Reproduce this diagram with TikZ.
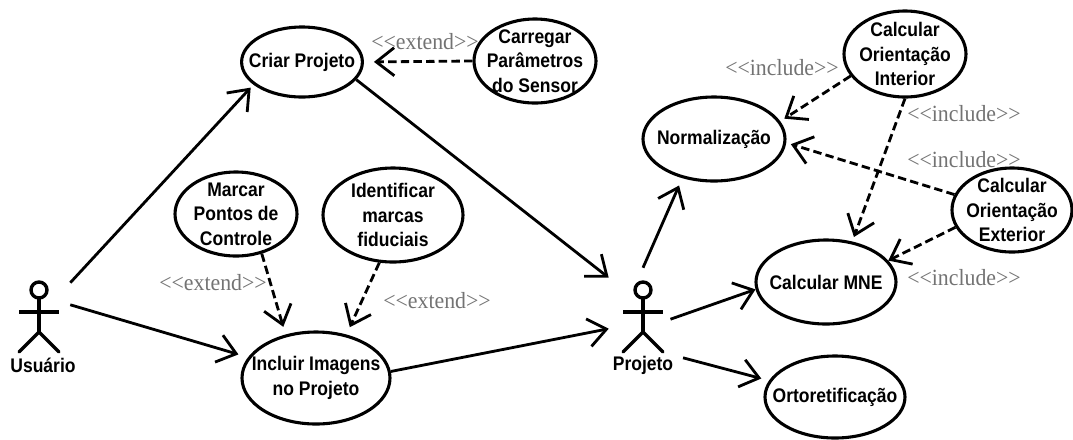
\documentclass[tikz,border=0pt]{standalone}
\usepackage{fontspec}
\usepackage{tikz}
\usetikzlibrary{shapes.geometric,arrows.meta}
\setmainfont{Liberation Sans}[FakeStretch=0.89]
\newfontfamily\stereofont{Liberation Serif}[FakeStretch=0.94]

\tikzset{
    usecase/.style={ellipse,draw,line width=2.2pt,inner sep=-1cm,align=center,
        font=\fontsize{14}{17.5}\selectfont\bfseries},
    stereo/.style={inner sep=0pt,text=black!55,font=\fontsize{16.5}{18}\selectfont\stereofont},
    actorbox/.style={rectangle,inner sep=0pt},
    actorname/.style={inner sep=0pt,font=\fontsize{14}{17.5}\selectfont\bfseries},
    assoc/.style={line width=2pt,-{Straight Barb[length=4.5mm,width=7mm,line width=2pt]}},
    dep/.style={assoc,dashed,dash pattern=on 6pt off 3pt},
    actor/.pic={
        \draw[line width=2.4pt] (0,-22) circle [radius=8];
        \draw[line width=2.4pt] (-20,0) -- (20,0);
        \draw[line width=2.4pt] (0,-13) -- (0,20);
        \draw[line width=2.4pt,line cap=round] (-20,40) -- (0,20) -- (20,40);
    }
}

\begin{document}
\begin{tikzpicture}[x=0.25mm,y=-0.25mm]
    \useasboundingbox (0,0) rectangle (1073,439);

    % Actors
    \pic at (39,312) {actor};
    \pic at (643,312) {actor};
    \node[actorbox,minimum width=15.5mm,minimum height=14.5mm] (Usuario) at (39,312) {};
    \node[actorbox,minimum width=17mm,minimum height=22mm] (Projeto) at (643,312) {};
    \node[actorname] (UsuarioName) at (43,365) {Usuário};
    \node[actorname] (ProjetoName) at (643,365) {Projeto};

    % Use cases
    \node[usecase,minimum width=30.2mm,minimum height=17.5mm] (Criar) at (302,62) {Criar Projeto};
    \node[usecase,minimum width=30.5mm,minimum height=21mm] (Carregar) at (535,61) {Carregar\\Parâmetros\\do Sensor};
    \node[usecase,minimum width=30.5mm,minimum height=21mm] (Marcar) at (236,214) {Marcar\\Pontos de\\Controle};
    \node[usecase,minimum width=35mm,minimum height=23.5mm] (Ident) at (393,215) {Identificar\\marcas\\fiduciais};
    \node[usecase,minimum width=37mm,minimum height=23mm] (Incluir) at (316,378) {Incluir Imagens\\no Projeto};
    \node[usecase,minimum width=35.5mm,minimum height=21mm] (Norm) at (714,139) {Normalização};
    \node[usecase,minimum width=30.5mm,minimum height=21.5mm] (OrInt) at (905,54) {Calcular\\Orientação\\Interior};
    \node[usecase,minimum width=30mm,minimum height=21mm] (OrExt) at (1012,210) {Calcular\\Orientação\\Exterior};
    \node[usecase,minimum width=35mm,minimum height=21mm] (MNE) at (826,282) {Calcular MNE};
    \node[usecase,minimum width=35mm,minimum height=20.5mm] (Orto) at (835,397) {Ortoretificação};

    % Stereotype labels
    \node[stereo] (ExtA) at (425,42) {<{}<extend>{}>};
    \node[stereo] (ExtB) at (213,283) {<{}<extend>{}>};
    \node[stereo] (ExtC) at (437,301) {<{}<extend>{}>};
    \node[stereo] (IncA) at (782,68) {<{}<include>{}>};
    \node[stereo] (IncB) at (964,114) {<{}<include>{}>};
    \node[stereo] (IncC) at (964,160) {<{}<include>{}>};
    \node[stereo] (IncD) at (964,278) {<{}<include>{}>};

    % Associations
    \draw[assoc,shorten >=1mm] (Usuario.north east) -- (Criar.205);
    \draw[assoc,shorten >=2.5mm] (Usuario.13) -- (Incluir.163);
    \draw[assoc] (Criar.-18) -- (Projeto.135);
    \draw[assoc] (Incluir.5) -- (Projeto.206);
    \draw[assoc,shorten >=2mm] (Projeto.north) -- (Norm.231);
    \draw[assoc,shorten <=-1.8mm] (Projeto.-8) -- (MNE.186);
    \draw[assoc,shorten <=1.5mm,shorten >=2mm] (Projeto.south east) -- (Orto.166);

    % Dependencies
    \draw[dep,shorten >=2.5mm] (Carregar.west) -- (Criar.east);
    \draw[dep,shorten >=2mm] (Marcar.-57) -- (Incluir.125);
    \draw[dep,shorten >=2mm] (Ident.-106) -- (Incluir.55);
    \draw[dep,shorten >=1.2mm] (OrInt.202) -- (Norm.15);
    \draw[dep,shorten >=1.2mm] (OrInt.south) -- (MNE.57);
    \draw[dep,shorten >=1.2mm] (OrExt.165) -- (Norm.-3);
    \draw[dep] (OrExt.197) -- (MNE.19);
\end{tikzpicture}
\end{document}
